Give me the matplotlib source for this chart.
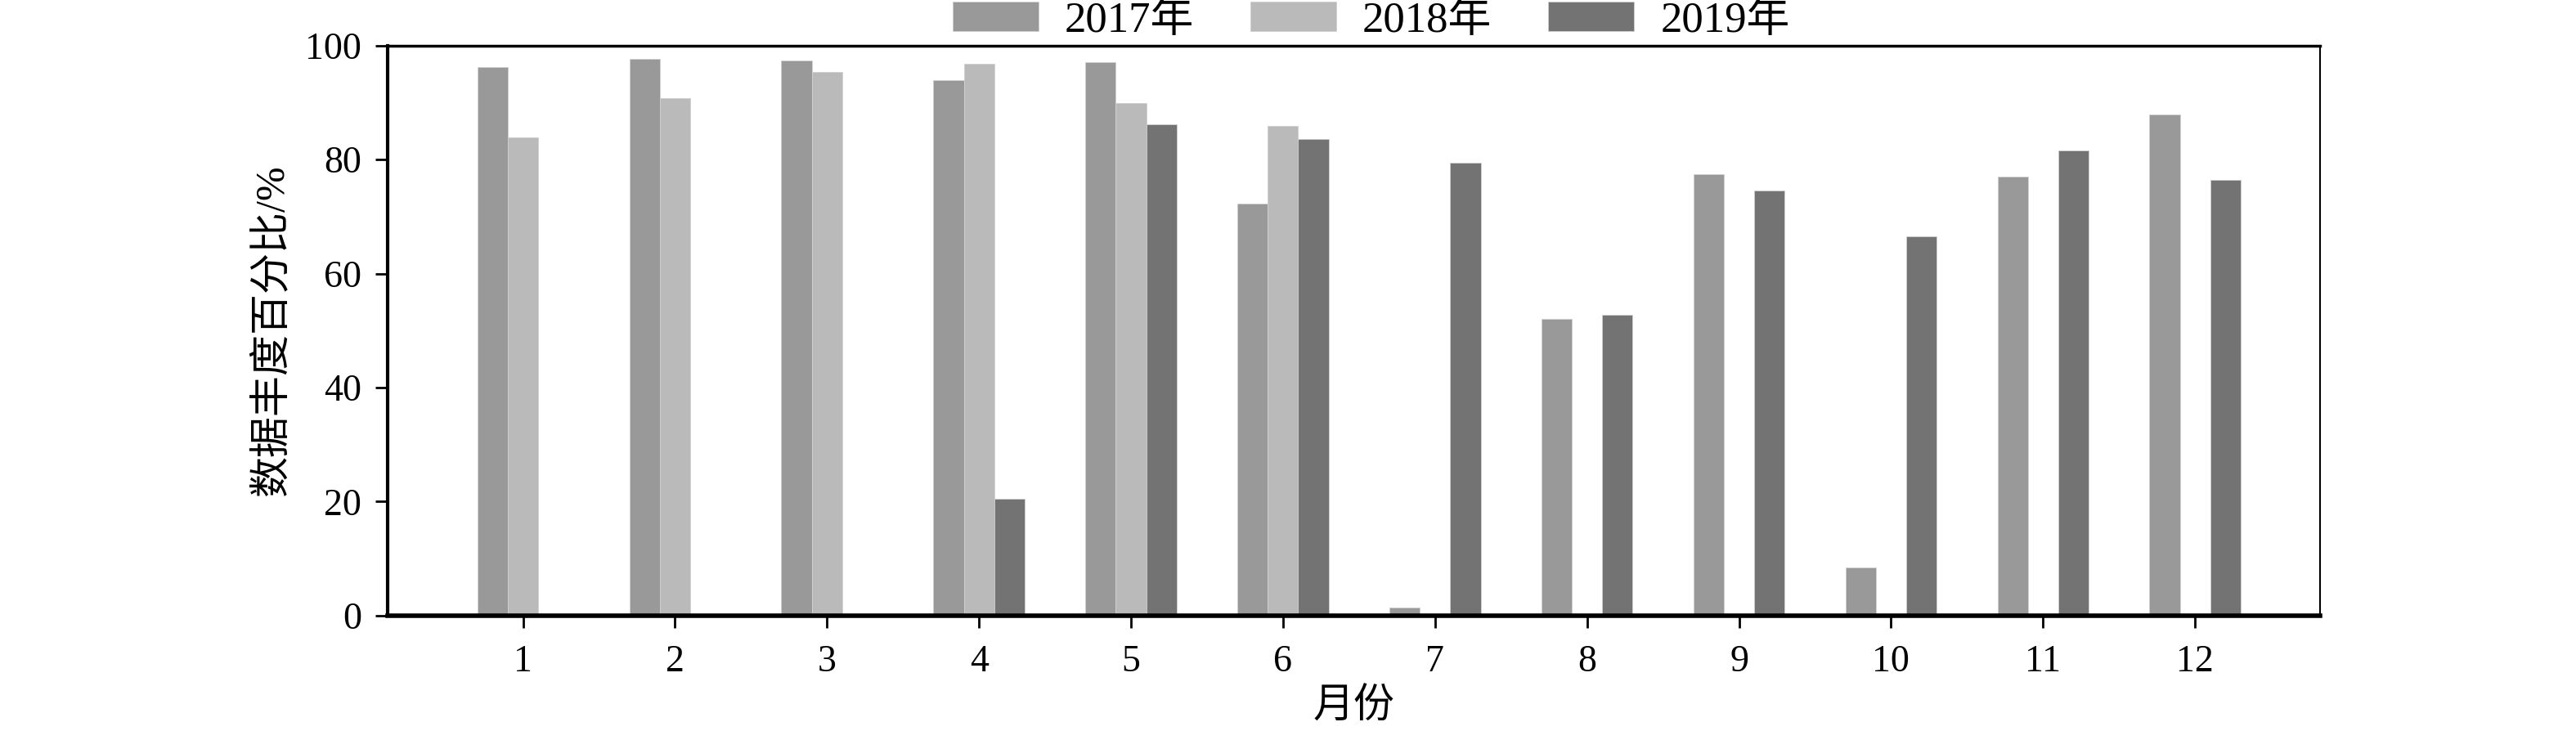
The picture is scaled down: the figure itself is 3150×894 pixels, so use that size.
import numpy as np
import matplotlib
matplotlib.use("Agg")
from matplotlib import pyplot as plt

plt.rcParams["font.family"] = ["Liberation Serif", "Noto Sans CJK SC", "DejaVu Sans"]

months = [1, 2, 3, 4, 5, 6, 7, 8, 9, 10, 11, 12]
years = ["2017年", "2018年", "2019年"]
v2017 = [96.3, 97.7, 97.4, 94.0, 97.1, 72.3, 1.4, 52.0, 77.5, 8.5, 77.0, 87.9]
v2018 = [83.9, 90.8, 95.4, 96.8, 89.9, 85.9, 0, 0, 0, 0, 0, 0]
v2019 = [0, 0, 0, 20.5, 86.2, 83.6, 79.5, 52.7, 74.6, 66.6, 81.6, 76.4]
colors = ["#999999", "#bababa", "#737373"]

fig = plt.figure(figsize=(31.5, 8.94), dpi=100)
ax = fig.add_axes([0.1505, 0.158, 0.75, 0.7795])

x = np.array(months)
w = 0.2
for i, (vals, lab) in enumerate(zip([v2017, v2018, v2019], years)):
    ax.bar(x + (i - 1) * w, vals, width=w, color=colors[i], label=lab,
           edgecolor="#d0d0d0", linewidth=0.6)

ax.set_xlim(0.11, 12.82)
ax.set_ylim(0, 100)
ax.set_xticks(months)
ax.set_yticks([0, 20, 40, 60, 80, 100])
ax.tick_params(axis="both", direction="out", length=11, width=2, labelsize=33, pad=12)
ax.tick_params(axis="x", pad=15)

for side, lw in [("left", 3), ("bottom", 4), ("top", 2.5), ("right", 1.5)]:
    ax.spines[side].set_linewidth(lw)

ax.set_ylabel("数据丰度百分比/%", fontsize=36, labelpad=12)
ax.set_xlabel("月份", fontsize=36, labelpad=8)

ax.legend(loc="center", bbox_to_anchor=(0.509, 1.044), ncol=3, frameon=False,
          fontsize=38, handlelength=2.0, handleheight=0.68, handletextpad=0.6,
          columnspacing=1.3, borderaxespad=0, borderpad=0)

fig.savefig("out.png", dpi=100)
